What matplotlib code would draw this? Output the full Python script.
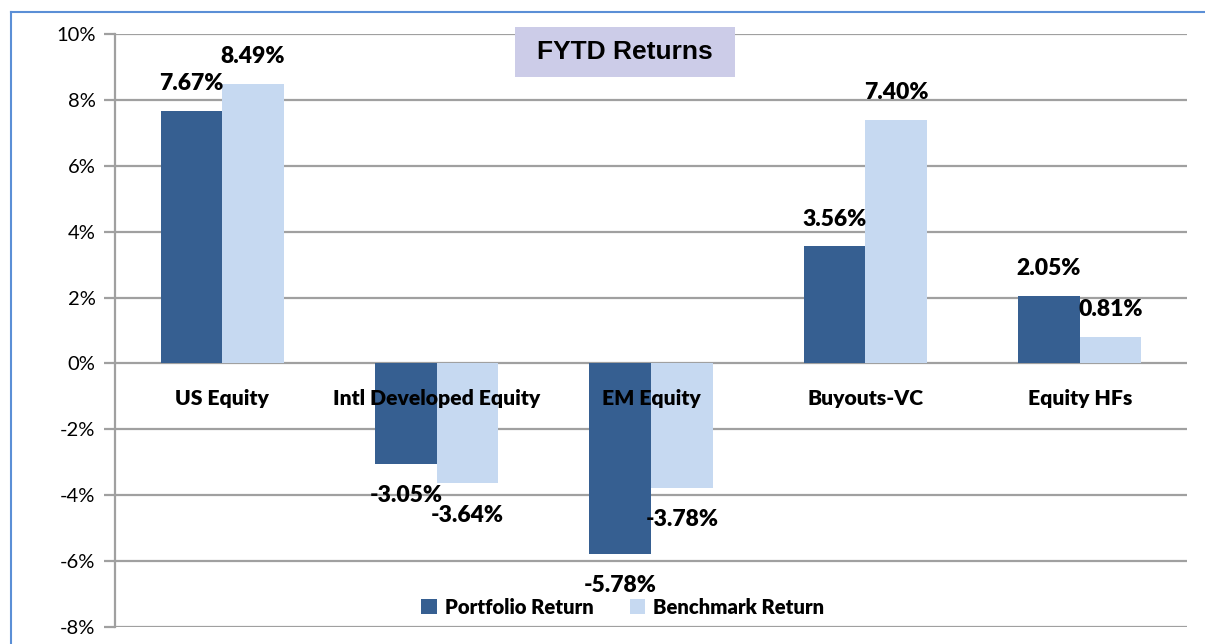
import numpy as np
import matplotlib.pyplot as plt
from matplotlib.lines import Line2D
from matplotlib.patches import Rectangle
from matplotlib.ticker import FuncFormatter, MultipleLocator

categories = ["US Equity", "Intl Developed Equity", "EM Equity", "Buyouts-VC", "Equity HFs"]
portfolio = [7.67, -3.05, -5.78, 3.56, 2.05]
benchmark = [8.49, -3.64, -3.78, 7.40, 0.81]
series_names = ["Portfolio Return", "Benchmark Return"]

dark = "#365F91"
light = "#C6D9F1"
grid = "#A0A0A0"
font = "Lato"

fig = plt.figure(figsize=(12.05, 6.44), dpi=100)
ax = fig.add_axes([115 / 1205, 1 - 627 / 644, (1187 - 115) / 1205, (627 - 34) / 644])

x = np.arange(len(categories))
w = 0.287
b1 = ax.bar(x - w / 2, portfolio, w, color=dark, zorder=2, label=series_names[0])
b2 = ax.bar(x + w / 2, benchmark, w, color=light, zorder=2, label=series_names[1])

ax.set_ylim(-8, 10)
ax.set_xlim(-0.5, len(categories) - 0.5)
ax.yaxis.set_major_locator(MultipleLocator(2))
ax.yaxis.set_major_formatter(FuncFormatter(lambda v, p: f"{v:.0f}%"))
ax.grid(axis="y", color=grid, linewidth=1.6, zorder=0)
ax.set_xticks([])
for s in ["top", "right", "bottom"]:
    ax.spines[s].set_visible(False)
ax.spines["left"].set_color(grid)
ax.spines["left"].set_linewidth(1.6)
ax.tick_params(axis="y", length=8, width=1.6, color=grid, labelsize=14.5, pad=6)
for t in ax.get_yticklabels():
    t.set_fontfamily(font)

# category labels just under the zero line
for i, c in enumerate(categories):
    ax.text(i, -1.05, c, ha="center", va="center", fontsize=15.2, fontweight="heavy",
            fontfamily=font, zorder=5)

# value labels
for bars, vals in [(b1, portfolio), (b2, benchmark)]:
    for r, v in zip(bars, vals):
        cx = r.get_x() + r.get_width() / 2
        dy = 27 if v >= 0 else -32
        ax.annotate(f"{v:.2f}%", (cx, v), xytext=(0, dy), textcoords="offset pixels",
                    ha="center", va="center", fontsize=16.5, fontweight="heavy",
                    fontfamily=font, zorder=5)

# title box
fig.add_artist(Rectangle((515 / 1205, 1 - 77 / 644), 220 / 1205, 50 / 644,
                         transform=fig.transFigure, fc="#CCCCE8", ec="none", zorder=6))
fig.text(625 / 1205, 1 - 52 / 644, "FYTD Returns", ha="center", va="center",
         fontsize=19, fontweight="bold", fontfamily="Liberation Sans", zorder=7)

leg = ax.legend(loc="center", bbox_to_anchor=(623 / 1205, 1 - 607 / 644),
                bbox_transform=fig.transFigure, ncol=2, frameon=False,
                prop={"family": font, "weight": "heavy", "size": 14.6},
                handlelength=0.75, handleheight=0.75, handletextpad=0.4, columnspacing=1.8)

# blue frame lines at top and left
fig.add_artist(Line2D([11 / 1205, 1], [1 - 12 / 644, 1 - 12 / 644], color="#5B8FD6", lw=1.5))
fig.add_artist(Line2D([11 / 1205, 11 / 1205], [0, 1 - 12 / 644], color="#5B8FD6", lw=1.5))

fig.savefig("out.png", dpi=100)
